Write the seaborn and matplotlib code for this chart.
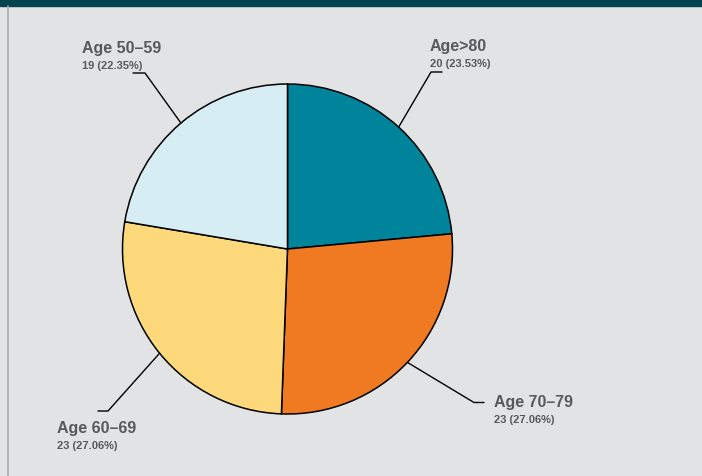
import numpy as np
import seaborn as sns
import matplotlib
import matplotlib.pyplot as plt
from matplotlib.patches import Rectangle
matplotlib.use('Agg')

sns.set_theme(style="white")
plt.rcParams['font.family'] = ['Liberation Sans', 'DejaVu Sans']

# data
labels = ['Age>80', 'Age 70\u201379', 'Age 60\u201369', 'Age 50\u201359']
counts = [20, 23, 23, 19]
percents = ['23.53%', '27.06%', '27.06%', '22.35%']
colors = ['#00849b', '#ef7a22', '#fdd97b', '#d6edf4']

bg = '#e2e3e5'
text_color = '#58595b'

fig = plt.figure(figsize=(7.02, 4.77), dpi=100)
fig.patch.set_facecolor(bg)
# axes in pixel units, y going up
ax = fig.add_axes([0, 0, 1, 1])
ax.set_facecolor(bg)

# header bar and left rule
ax.add_patch(Rectangle((0, 470), 702, 7, color='#01444f', zorder=5))
ax.plot([7.5, 7.5], [0, 470], color='#a9abae', lw=1.2, zorder=5)

cx, cy, r = 287.5, 227, 165
wedges, _ = ax.pie(counts, colors=colors, startangle=90, counterclock=False,
                   center=(cx, cy), radius=r, frame=True,
                   wedgeprops=dict(edgecolor='black', linewidth=1.1))
ax.set_xlim(0, 702)
ax.set_ylim(0, 477)
ax.axis('off')

# label placement: elbow, segment end, text x, text baseline y
layout = {
    'Age>80': dict(elbow=(431, 404), end=(442, 404), tx=430, ty=426),
    'Age 70\u201379': dict(elbow=(474, 73.5), end=(484, 73.5), tx=494, ty=70),
    'Age 60\u201369': dict(elbow=(108, 65), end=(98, 65), tx=57, ty=44),
    'Age 50\u201359': dict(elbow=(145, 403), end=(133, 403), tx=82, ty=424),
}

for w, lab, n, p in zip(wedges, labels, counts, percents):
    ang = np.deg2rad((w.theta1 + w.theta2) / 2)
    ex, ey = cx + r * np.cos(ang), cy + r * np.sin(ang)
    L = layout[lab]
    ax.plot([ex, L['elbow'][0], L['end'][0]], [ey, L['elbow'][1], L['end'][1]],
            color='black', lw=1.0, zorder=4)
    ax.text(L['tx'], L['ty'], lab, fontsize=11.5, fontweight='bold',
            color=text_color, va='baseline', ha='left')
    ax.text(L['tx'], L['ty'] - 16, f'{n} ({p})', fontsize=8, fontweight='bold',
            color=text_color, va='baseline', ha='left')

fig.savefig('out.png', dpi=100, facecolor=bg)
